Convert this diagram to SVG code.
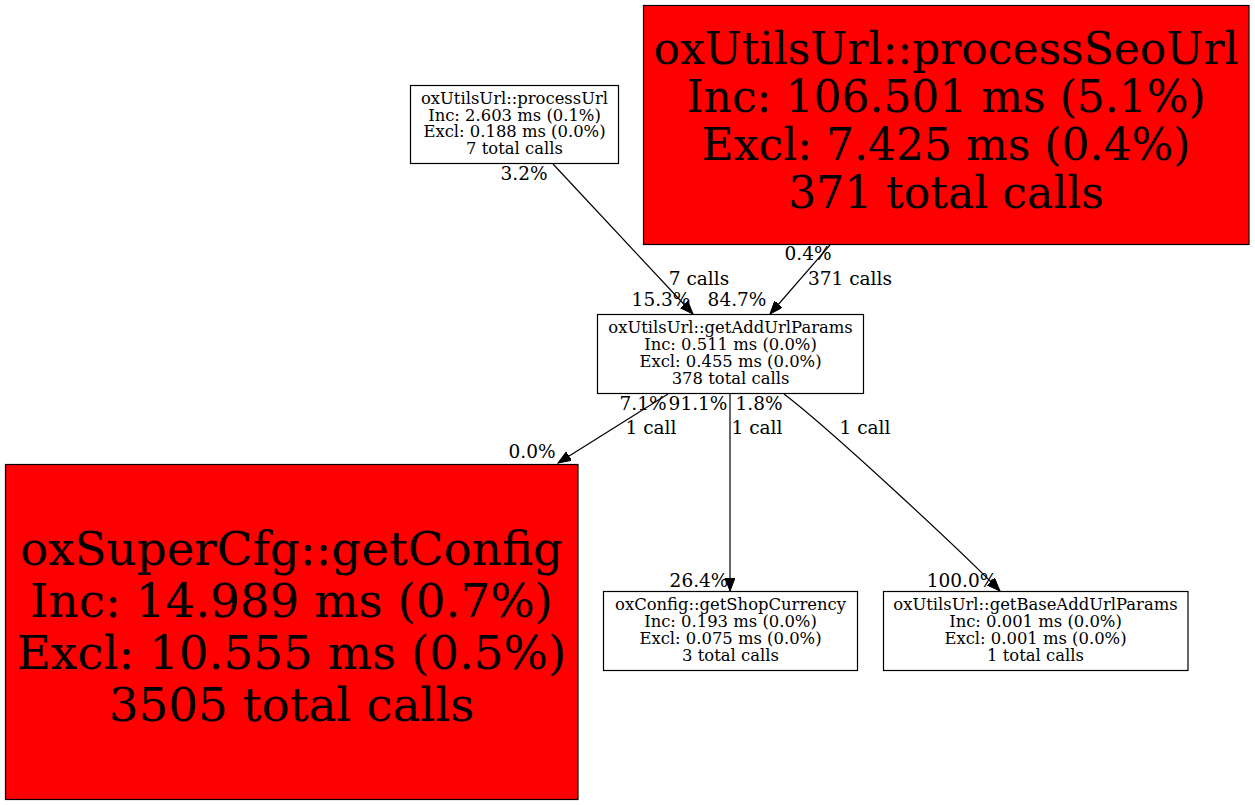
<svg xmlns="http://www.w3.org/2000/svg" width="1255" height="805" viewBox="0 0 1255 805">
<style>
text{font-family:"DejaVu Serif","Liberation Serif",serif;text-anchor:middle;fill:#000}
.box{fill:#fff;stroke:#000;stroke-width:1.2}
.hot{fill:#ff0000;stroke:#000;stroke-width:1.2}
.s{font-size:16.4px}
.big1{font-size:44px}
.big2{font-size:46.8px}
.lbl{font-size:18.5px}
.edge{fill:none;stroke:#000;stroke-width:1.2;marker-end:url(#arr)}
</style>
<defs>
<marker id="arr" markerUnits="userSpaceOnUse" markerWidth="14" markerHeight="11" refX="13" refY="5" orient="auto">
<path d="M0,0 L13,5 L0,10 z" fill="#000" stroke="#000" stroke-width="1"/>
</marker>
</defs>
<rect width="1255" height="805" fill="#fff"/>
<g id="connectors">
<path class="edge" d="M553,164 L693,314"/>
<path class="edge" d="M830,245 L770,314"/>
<path class="edge" d="M668,394 L558,463"/>
<path class="edge" d="M730,394 L730,591"/>
<path class="edge" d="M784,394 C830,429 960,550 1000,591"/>
<text class="lbl" x="524" y="180">3.2%</text>
<text class="lbl" x="699" y="285">7 calls</text>
<text class="lbl" x="661" y="306">15.3%</text>
<text class="lbl" x="737" y="306">84.7%</text>
<text class="lbl" x="808" y="260">0.4%</text>
<text class="lbl" x="850" y="285">371 calls</text>
<text class="lbl" x="643" y="410">7.1%</text>
<text class="lbl" x="698" y="410">91.1%</text>
<text class="lbl" x="759" y="410">1.8%</text>
<text class="lbl" x="651" y="434">1 call</text>
<text class="lbl" x="757" y="434">1 call</text>
<text class="lbl" x="865" y="434">1 call</text>
<text class="lbl" x="532" y="458">0.0%</text>
<text class="lbl" x="699" y="587">26.4%</text>
<text class="lbl" x="962" y="587">100.0%</text>
</g>
<g id="processUrl">
<rect class="box" x="410.5" y="85.5" width="208" height="78"/>
<text class="s" x="514.5" y="104">oxUtilsUrl::processUrl</text>
<text class="s" x="514.5" y="120.7">Inc: 2.603 ms (0.1%)</text>
<text class="s" x="514.5" y="137.4">Excl: 0.188 ms (0.0%)</text>
<text class="s" x="514.5" y="154">7 total calls</text>
</g>
<g id="processSeoUrl">
<rect class="hot" x="643.5" y="5.5" width="605.5" height="239"/>
<text class="big1" x="946" y="64">oxUtilsUrl::processSeoUrl</text>
<text class="big1" x="946" y="112">Inc: 106.501 ms (5.1%)</text>
<text class="big1" x="946" y="160">Excl: 7.425 ms (0.4%)</text>
<text class="big1" x="946" y="208">371 total calls</text>
</g>
<g id="getAddUrlParams">
<rect class="box" x="597.5" y="314.5" width="266" height="79"/>
<text class="s" x="730.5" y="333">oxUtilsUrl::getAddUrlParams</text>
<text class="s" x="730.5" y="350">Inc: 0.511 ms (0.0%)</text>
<text class="s" x="730.5" y="367">Excl: 0.455 ms (0.0%)</text>
<text class="s" x="730.5" y="383.5">378 total calls</text>
</g>
<g id="getConfig">
<rect class="hot" x="5.5" y="464.5" width="572.5" height="335"/>
<text class="big2" x="291.5" y="565">oxSuperCfg::getConfig</text>
<text class="big2" x="291.5" y="617">Inc: 14.989 ms (0.7%)</text>
<text class="big2" x="291.5" y="669">Excl: 10.555 ms (0.5%)</text>
<text class="big2" x="291.5" y="721">3505 total calls</text>
</g>
<g id="getShopCurrency">
<rect class="box" x="603.5" y="591.5" width="254" height="79"/>
<text class="s" x="730.5" y="610">oxConfig::getShopCurrency</text>
<text class="s" x="730.5" y="627">Inc: 0.193 ms (0.0%)</text>
<text class="s" x="730.5" y="644">Excl: 0.075 ms (0.0%)</text>
<text class="s" x="730.5" y="660.5">3 total calls</text>
</g>
<g id="getBaseAddUrlParams">
<rect class="box" x="883.5" y="591.5" width="304.5" height="79"/>
<text class="s" x="1035.5" y="610">oxUtilsUrl::getBaseAddUrlParams</text>
<text class="s" x="1035.5" y="627">Inc: 0.001 ms (0.0%)</text>
<text class="s" x="1035.5" y="644">Excl: 0.001 ms (0.0%)</text>
<text class="s" x="1035.5" y="660.5">1 total calls</text>
</g>
</svg>
